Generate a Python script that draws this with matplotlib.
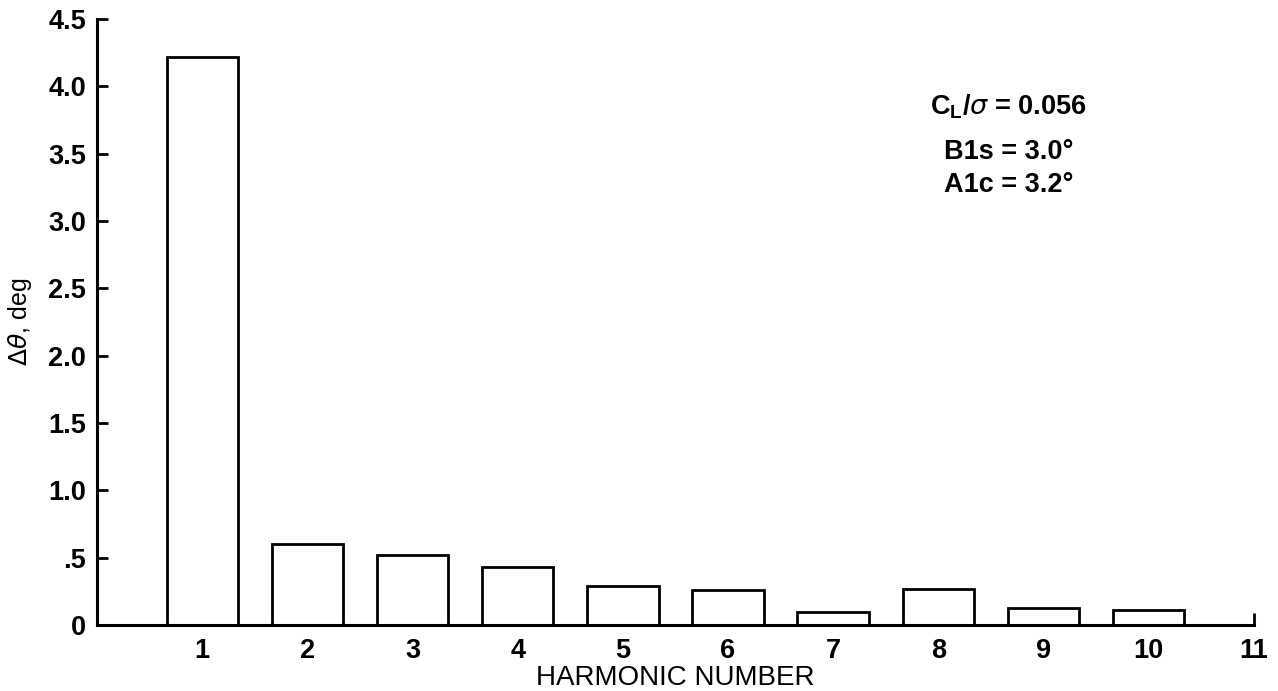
import matplotlib
matplotlib.use("Agg")
import matplotlib.pyplot as plt

# Harmonic content of the blade pitch input
harmonic = [1, 2, 3, 4, 5, 6, 7, 8, 9, 10]
delta_theta = [4.22, 0.60, 0.52, 0.43, 0.29, 0.26, 0.10, 0.27, 0.13, 0.11]

x_ticks = list(range(1, 12))
y_ticks = [0, 0.5, 1.0, 1.5, 2.0, 2.5, 3.0, 3.5, 4.0, 4.5]
y_tick_labels = ["0", ".5", "1.0", "1.5", "2.0", "2.5", "3.0", "3.5", "4.0", "4.5"]

plt.rcParams["font.family"] = ["Liberation Sans", "DejaVu Sans"]
plt.rcParams["mathtext.fontset"] = "custom"
plt.rcParams["mathtext.rm"] = "DejaVu Sans"
plt.rcParams["mathtext.it"] = "DejaVu Sans:italic"
plt.rcParams["mathtext.bf"] = "Liberation Sans:bold"

fig = plt.figure(figsize=(12.78, 6.91), dpi=100)
ax = fig.add_axes([0.076, 0.0955, 0.905, 0.877])

ax.bar(harmonic, delta_theta, width=0.68, facecolor="white",
       edgecolor="black", linewidth=2.0, zorder=2)

ax.set_xlim(0, 11)
ax.set_ylim(0, 4.5)

ax.spines["top"].set_visible(False)
ax.spines["right"].set_visible(False)
for side in ["left", "bottom"]:
    ax.spines[side].set_linewidth(2.2)

ax.set_xticks(x_ticks)
ax.set_xticklabels([str(t) for t in x_ticks], fontweight="bold", fontsize=19.5)
ax.set_yticks(y_ticks)
ax.set_yticklabels(y_tick_labels, fontweight="bold", fontsize=19.5)
ax.tick_params(axis="x", direction="in", length=9, width=2, pad=9)
ax.tick_params(axis="y", direction="in", length=8, width=2, pad=8)

ax.set_xlabel("HARMONIC NUMBER", fontsize=20, labelpad=1)
ax.set_ylabel(r"$\Delta\theta$, deg", fontsize=18)
ax.yaxis.set_label_coords(-0.055, 0.5)

ax.text(8.67, 3.85, r"C$_\mathbf{L}$/$\sigma$ = 0.056", fontsize=19.5,
        fontweight="bold", ha="center", va="center")
ax.text(8.67, 3.51, "B1s = 3.0°", fontsize=19.5, fontweight="bold",
        ha="center", va="center")
ax.text(8.67, 3.27, "A1c = 3.2°", fontsize=19.5, fontweight="bold",
        ha="center", va="center")

fig.savefig("out.png", dpi=100)
